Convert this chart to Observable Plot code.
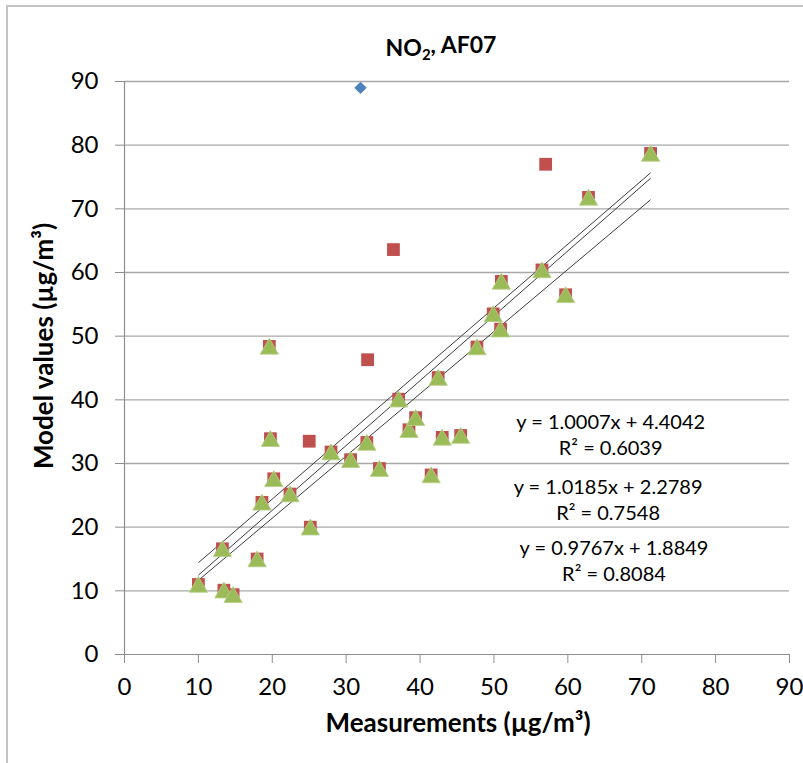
<!DOCTYPE html>
<html><head><meta charset="utf-8">
<script src="https://cdn.jsdelivr.net/npm/d3@7"></script>
<script src="https://cdn.jsdelivr.net/npm/@observablehq/plot@0.6"></script>
<style>
body{margin:0;background:#fff;}
#wrap{position:relative;width:803px;height:763px;overflow:hidden;}
#border{position:absolute;left:6px;top:5px;width:900px;height:900px;border-top:2px solid #c4c4c4;border-left:2px solid #c4c4c4;pointer-events:none;}
</style></head><body><div id="wrap"><div id="border"></div></div>
<script>
// ---- data ----
const titleText = "NO2, AF07";
const xLabel = "Measurements (µg/m³)";
const yLabel = "Model values (µg/m³)";
const xTicks = [0,10,20,30,40,50,60,70,80,90];
const yTicks = [0,10,20,30,40,50,60,70,80,90];

// points shared by all three series
const baseX = [10.0,13.25,13.45,14.7,17.95,18.6,19.6,19.75,20.2,22.4,25.15,27.95,30.6,32.8,34.5,37.1,38.5,39.4,41.5,42.45,43.0,45.5,47.7,49.9,50.9,51.0,56.5,59.7,62.8,71.2];
const baseY = [11.0,16.6,10.1,9.4,15.0,23.9,48.4,33.9,27.6,25.2,20.0,31.8,30.6,33.3,29.2,40.1,35.3,37.2,28.2,43.5,34.1,34.4,48.3,53.5,51.1,58.6,60.4,56.5,71.8,78.7];

// series-specific extra points
const blueExtraX = [31.94];
const blueExtraY = [89.0];
const redExtraX = [25.0,32.9,36.4,57.0];
const redExtraY = [33.5,46.3,63.6,77.0];

// trendline equations (slope, intercept, R²)
const seriesNames = ["blue","red","green"];
const slopes = [1.0007,1.0185,0.9767];
const intercepts = [4.4042,2.2789,1.8849];
const r2 = ["0.6039","0.7548","0.8084"];

// ---- build tables ----
const toPts = (xs, ys) => xs.map((x,i)=>({x, y: ys[i]}));
const green = toPts(baseX, baseY);
const red = toPts(baseX.concat(redExtraX), baseY.concat(redExtraY));
const blue = toPts(baseX.concat(blueExtraX), baseY.concat(blueExtraY));
const seriesData = [blue, red, green];

const trend = seriesData.map((pts,i)=>{
  const [x1,x2] = d3.extent(pts, d=>d.x);
  return {x1, x2, y1: slopes[i]*x1+intercepts[i], y2: slopes[i]*x2+intercepts[i]};
});
const fmtSign = v => v >= 0 ? " + " + v.toFixed(4) : " - " + Math.abs(v).toFixed(4);
const eqLabels = slopes.map((s,i)=>`y = ${s.toFixed(4)}x${fmtSign(intercepts[i])}\nR² = ${r2[i]}`);
// annotation anchor positions (data units)
const eqPos = [{x:65.8,y:34.7},{x:65.45,y:24.4},{x:66.25,y:14.85}];
const eqData = eqLabels.map((t,i)=>({text:t, x:eqPos[i].x, y:eqPos[i].y}));

const grid = "#a8a8a8";
const axisCol = "#8e8e8e";

const chart = Plot.plot({
  width: 803, height: 763,
  marginLeft: 124, marginRight: 14, marginTop: 81, marginBottom: 109,
  style: {fontFamily: "Lato, 'Open Sans', sans-serif", background: "transparent", color: "#000", overflow: "visible"},
  x: {domain: [0, 90], label: null},
  y: {domain: [0, 90], label: null},
  marks: [
    Plot.ruleY(yTicks.filter(d=>d>0), {stroke: grid, strokeWidth: 1.3}),
    Plot.ruleX([0], {stroke: axisCol, strokeWidth: 1.2}),
    Plot.ruleY([0], {stroke: axisCol, strokeWidth: 1.2}),
    Plot.axisY({ticks: yTicks, tickSize: 9, tickPadding: 17, fontSize: 24, stroke: axisCol, label: null, tickFormat: d=>String(d)}),
    Plot.axisX({ticks: xTicks, tickSize: 9, tickPadding: 14, fontSize: 24, stroke: axisCol, label: null, tickFormat: d=>String(d)}),
    Plot.link(trend, {x1:"x1", y1:"y1", x2:"x2", y2:"y2", stroke: "#3c3c3c", strokeWidth: 1}),
    Plot.dot(blue, {x:"x", y:"y", symbol: "diamond2", r: 5.6, fill: "#4F81BD"}),
    Plot.dot(red, {x:"x", y:"y", symbol: "square", r: 7.2, fill: "#C0504D"}),
    Plot.dot(green, {x:"x", y:"y", symbol: "triangle", r: 6.8, fill: "#9BBB59", stroke: "#b5cf85", strokeWidth: 0.8, dy: 2.5}),
    Plot.text(eqData, {x:"x", y:"y", text:"text", fontSize: 20, lineHeight: 1.3, fill: "#000"}),
    Plot.text([titleText], {frameAnchor: "top", dx: -16, dy: -42, fontSize: 23, fontWeight: "bold", fill:"#000"}),
    Plot.text([xLabel], {frameAnchor: "bottom", dx: 1, dy: 77, fontSize: 26, fontWeight: "bold", fill:"#000"}),
    Plot.text([yLabel], {frameAnchor: "left", textAnchor: "middle", dx: -80, dy: -22, rotate: -90, fontSize: 26, fontWeight: "bold", fill:"#000"})
  ]
});

// subscript the "2" in NO2
d3.select(chart).selectAll("text").filter(function(){ return this.textContent === titleText; })
  .each(function(){
    const t = d3.select(this);
    t.text(null);
    t.append("tspan").text("NO");
    t.append("tspan").attr("font-size", 15).attr("dy", "0.3em").text("2");
    t.append("tspan").attr("dy", "-0.3em").text(", AF07");
  });

document.getElementById("wrap").appendChild(chart);
chart.style.position = "absolute";
chart.style.left = "0px";
chart.style.top = "0px";
</script>
</body></html>
